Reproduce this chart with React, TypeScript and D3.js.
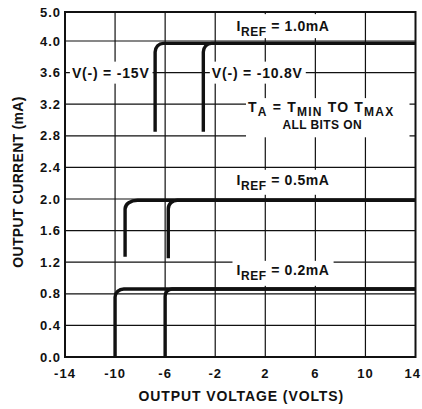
import React, { useEffect, useRef } from "react";
import * as d3 from "d3";

const W = 422;
const H = 409;

// Axis ticks
const xTicks = [-14, -10, -6, -2, 2, 6, 10, 14];
const xTickLabels = ["-14", "-10", "-6", "-2", "2", "6", "10", "14"];
const yTicks = [0, 0.4, 0.8, 1.2, 1.6, 2.0, 2.4, 2.8, 3.2, 3.6, 4.0, 5.0];
const yTickLabels = ["0.0", "0.4", "0.8", "1.2", "1.6", "2.0", "2.4", "2.8", "3.2", "3.6", "4.0", "5.0"];

// Curves (one per V(-) supply / IREF combination)
const curveIref = [1.0, 1.0, 0.5, 0.5, 0.2, 0.2];
const curveSupply = [-15, -10.8, -15, -10.8, -15, -10.8];
const curveKneeV = [-6.8, -2.95, -9.2, -5.75, -10.0, -6.0];
const curveStartI = [2.85, 2.85, 1.27, 1.25, 0.0, 0.0];
const curveFlatI = [3.97, 3.97, 1.985, 1.985, 0.86, 0.86];
const cornerV = [0.65, 0.65, 1.0, 0.72, 0.7, 0.55];
const cornerI = [0.11, 0.11, 0.11, 0.11, 0.1, 0.09];

// Annotation texts
const irefTexts = ["1.0mA", "0.5mA", "0.2mA"];
const supplyTexts = ["V(-) = -15V", "V(-) = -10.8V"];

export default function App() {
  const ref = useRef<SVGSVGElement>(null);

  useEffect(() => {
    const svg = d3.select(ref.current);
    svg.selectAll("*").remove();

    const x = d3.scaleLinear().domain([-14, 14]).range([65, 415.5]);
    const y = d3.scaleLinear().domain([0, 4, 5]).range([357, 41, 12]);
    const font = "'Liberation Sans', Arial, Helvetica, sans-serif";
    const ink = "#111";

    svg.append("rect").attr("width", W).attr("height", H).attr("fill", "#fff");

    // grid
    const grid = svg.append("g").attr("stroke", ink).attr("stroke-width", 1.2);
    grid
      .selectAll("line.v")
      .data(xTicks.slice(1, -1))
      .join("line")
      .attr("x1", (d) => x(d))
      .attr("x2", (d) => x(d))
      .attr("y1", y(5))
      .attr("y2", y(0));
    grid
      .selectAll("line.h")
      .data(yTicks.slice(1, -1))
      .join("line")
      .attr("x1", x(-14))
      .attr("x2", x(14))
      .attr("y1", (d) => y(d))
      .attr("y2", (d) => y(d));

    const masks = svg.append("g").attr("fill", "#fff");

    // curves
    const curves = svg
      .append("g")
      .attr("fill", "none")
      .attr("stroke", ink)
      .attr("stroke-width", 3.4)
      .attr("stroke-linecap", "butt");
    curveIref.forEach((iref, k) => {
      const p = d3.path();
      const kv = curveKneeV[k];
      const fi = curveFlatI[k];
      const rv = cornerV[k];
      const ri = cornerI[k];
      p.moveTo(x(kv), y(curveStartI[k]));
      p.lineTo(x(kv), y(fi - ri));
      p.bezierCurveTo(
        x(kv),
        y(fi - ri * 0.45),
        x(kv + rv * 0.45),
        y(fi),
        x(kv + rv),
        y(fi)
      );
      p.lineTo(x(14), y(fi));
      curves
        .append("path")
        .attr("d", p.toString())
        .attr("data-iref", iref)
        .attr("data-supply", curveSupply[k]);
    });

    // labels
    const labels = svg
      .append("g")
      .attr("font-family", font)
      .attr("font-weight", "bold")
      .attr("fill", ink)
      .style("white-space", "pre");

    const maskFor = (node: SVGTextElement, pad: number[]) => {
      const b = node.getBBox();
      masks
        .append("rect")
        .attr("x", b.x - pad[0])
        .attr("y", b.y - pad[1])
        .attr("width", b.width + pad[0] + pad[2])
        .attr("height", b.height + pad[1] + pad[3]);
    };

    // IREF labels
    const irefPos = [4.34, 2.18, 1.04];
    const irefPads = [
      [4, 4, 4, -1],
      [4, 2, 4, 2],
      [4, 1, 4, 3],
    ];
    irefTexts.forEach((t, k) => {
      const tx = labels
        .append("text")
        .attr("x", x(-0.3))
        .attr("y", y(irefPos[k]))
        .attr("font-size", 14)
        .attr("letter-spacing", 0.6);
      tx.append("tspan").text("I");
      tx.append("tspan").attr("font-size", 12).attr("dy", 5).text("REF");
      tx.append("tspan").attr("dy", -5).text(" = " + t);
      maskFor(tx.node() as SVGTextElement, irefPads[k]);
    });

    // supply labels
    const supplyV = [-13.45, -2.27];
    supplyTexts.forEach((t, k) => {
      const tx = labels
        .append("text")
        .attr("x", x(supplyV[k]))
        .attr("y", y(3.6))
        .attr("dy", "0.36em")
        .attr("font-size", 14)
        .attr("letter-spacing", 0.8)
        .text(t);
      maskFor(tx.node() as SVGTextElement, [2, 3, 3, 3]);
    });

    // TA block
    const ta = labels.append("g");
    const t1 = ta
      .append("text")
      .attr("x", x(0.62))
      .attr("y", y(3.1))
      .attr("font-size", 14)
      .attr("letter-spacing", 1.2);
    t1.append("tspan").text("T");
    t1.append("tspan").attr("font-size", 12).attr("dy", 4).text("A");
    t1.append("tspan").attr("dy", -4).text(" = T");
    t1.append("tspan").attr("font-size", 12).attr("dy", 4).text("MIN");
    t1.append("tspan").attr("dy", -4).text(" TO T");
    t1.append("tspan").attr("font-size", 12).attr("dy", 4).text("MAX");
    const t2 = ta
      .append("text")
      .attr("x", x(6.55))
      .attr("y", y(2.88))
      .attr("text-anchor", "middle")
      .attr("font-size", 12)
      .attr("letter-spacing", 0.4)
      .text("ALL BITS ON");
    const b1 = (t1.node() as SVGTextElement).getBBox();
    const b2 = (t2.node() as SVGTextElement).getBBox();
    const mx0 = Math.min(b1.x, b2.x) - 2;
    const my0 = b1.y - 1;
    masks
      .append("rect")
      .attr("x", mx0)
      .attr("y", my0)
      .attr("width", x(14) - 6 - mx0)
      .attr("height", y(2.8) + 1.5 - my0);

    // axis tick labels
    labels
      .selectAll("text.yt")
      .data(yTicks)
      .join("text")
      .attr("x", 61)
      .attr("y", (d) => y(d))
      .attr("dy", "0.36em")
      .attr("text-anchor", "end")
      .attr("font-size", 13)
      .attr("letter-spacing", 1)
      .text((d, i) => yTickLabels[i]);
    const xt = labels
      .selectAll("text.xt")
      .data(xTicks)
      .join("text")
      .attr("x", (d) => x(d))
      .attr("y", 378)
      .attr("text-anchor", "middle")
      .attr("font-size", 13)
      .attr("letter-spacing", 1)
      .text((d, i) => xTickLabels[i]);
    // keep the last tick label inside the picture
    xt.each(function () {
      const b = (this as SVGTextElement).getBBox();
      const over = b.x + b.width - (W - 1);
      if (over > 0) d3.select(this).attr("dx", -over);
    });

    // axis titles
    labels
      .append("text")
      .attr("x", (x(-14) + x(14)) / 2 + 1)
      .attr("y", 401)
      .attr("text-anchor", "middle")
      .attr("font-size", 14)
      .attr("letter-spacing", 0.9)
      .text("OUTPUT VOLTAGE (VOLTS)");
    labels
      .append("text")
      .attr("transform", `translate(23,${182}) rotate(-90)`)
      .attr("text-anchor", "middle")
      .attr("font-size", 14)
      .attr("letter-spacing", 0.3)
      .text("OUTPUT CURRENT (mA)");

    // frame
    svg
      .append("rect")
      .attr("x", x(-14))
      .attr("y", y(5))
      .attr("width", x(14) - x(-14))
      .attr("height", y(0) - y(5))
      .attr("fill", "none")
      .attr("stroke", ink)
      .attr("stroke-width", 2);
  }, []);

  return (
    <svg
      ref={ref}
      width={W}
      height={H}
      style={{ display: "block", position: "absolute", left: 0, top: 0 }}
    />
  );
}
